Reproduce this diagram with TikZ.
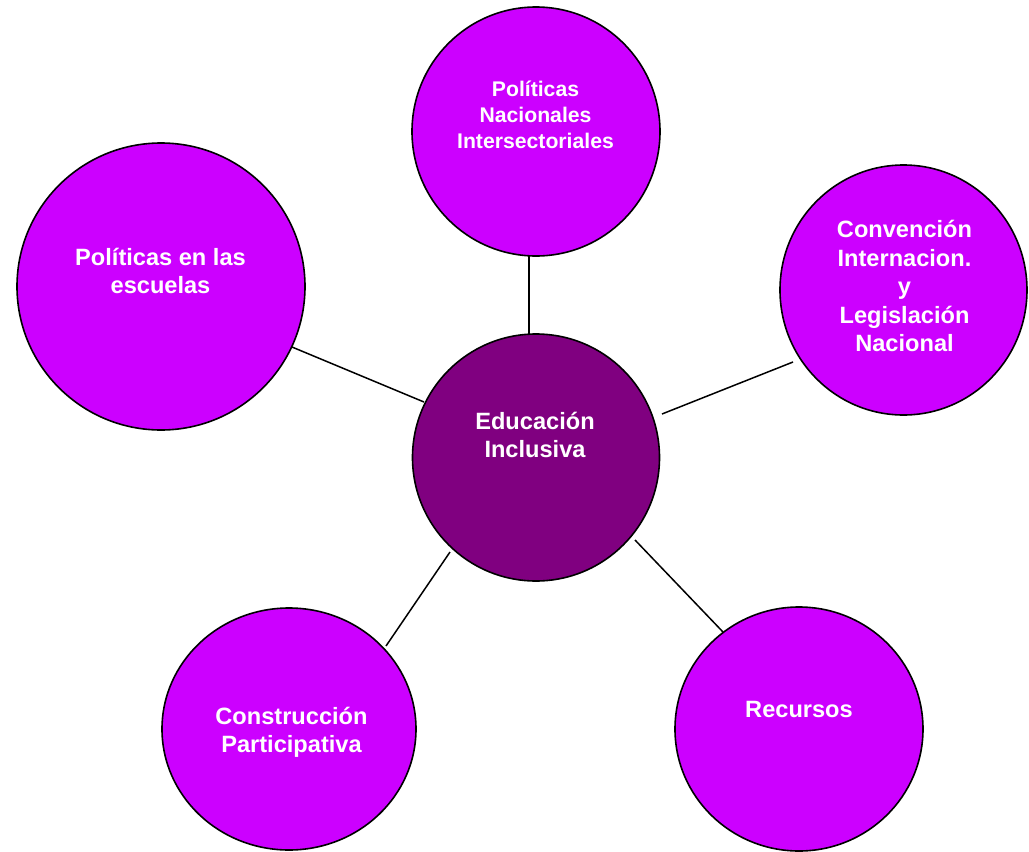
\documentclass[tikz,border=0pt]{standalone}
\usepackage{fontspec}
\usetikzlibrary{shapes.geometric}
\setmainfont{Liberation Sans}
\definecolor{bubble}{RGB}{204,0,255}
\definecolor{core}{RGB}{128,0,128}
\begin{document}
\begin{tikzpicture}[x=1pt,y=-1pt,
  bub/.style={ellipse,draw=black,line width=1.6pt,fill=bubble,inner sep=0pt,minimum width=#1},
  hub/.style={circle,draw=black,line width=1.6pt,fill=core,inner sep=0pt,minimum size=#1},
  lbl/.style={text=white,font=\fontsize{23.6}{28.5}\selectfont\bfseries,align=center,anchor=south,inner sep=0pt,text depth=0pt},
  lbls/.style={text=white,font=\fontsize{21.2}{26}\selectfont\bfseries,align=center,anchor=south,inner sep=0pt,text depth=0pt},
  link/.style={draw=black,line width=1.5pt}]
\useasboundingbox (0,0) rectangle (1029,852);
% circles
\node[bub=248pt,minimum height=249pt] (top) at (536,131.5) {};
\node[bub=288pt,minimum height=287pt] (left) at (161,286.5) {};
\node[bub=247pt,minimum height=250pt] (right) at (903.5,290) {};
\node[bub=254pt,minimum height=242pt] (bl) at (289,729) {};
\node[bub=248pt,minimum height=244pt] (br) at (799,729) {};
\node[hub=247pt] (ctr) at (536,457.5) {};
% connector end points
\coordinate (tA) at (529,255);
\coordinate (tB) at (529,335);
\coordinate (lA) at (292,347);
\coordinate (lB) at (424,402);
\coordinate (rA) at (662,414);
\coordinate (rB) at (793,362);
\coordinate (blA) at (386,646);
\coordinate (blB) at (450,552);
\coordinate (brA) at (635,540);
\coordinate (brB) at (723,632);
\draw[link] (tA) -- (tB);
\draw[link] (lA) -- (lB);
\draw[link] (rA) -- (rB);
\draw[link] (blA) -- (blB);
\draw[link] (brA) -- (brB);
% labels
\node[lbls] (ttop) at (535.5,149) {Políticas\\Nacionales\\Intersectoriales};
\node[lbl] (tleft) at (160.5,294) {Políticas en las\\escuelas};
\node[lbl] (tright) at (904.5,352) {Convención\\Internacion.\\y\\Legislación\\Nacional};
\node[lbl] (tctr) at (535,458) {Educación\\Inclusiva};
\node[lbl] (tbl) at (291.5,753) {Construcción\\Participativa};
\node[lbl] (tbr) at (799,718) {Recursos};
\end{tikzpicture}
\end{document}
